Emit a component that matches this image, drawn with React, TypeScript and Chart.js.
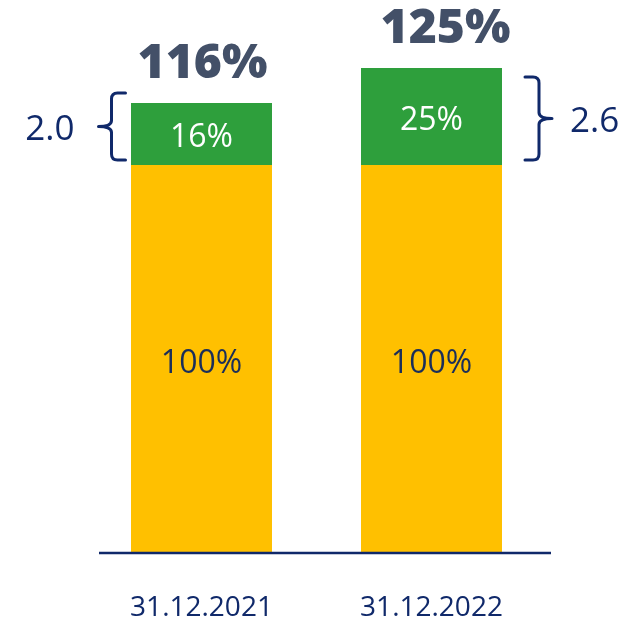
import React, { useEffect, useRef } from "react";
import { Chart, registerables } from "chart.js";

Chart.register(...registerables);

const categories = ["31.12.2021", "31.12.2022"];
const baseValues = [100, 100];
const extraValues = [16, 25];
const totalLabels = ["116%", "125%"];
const baseLabels = ["100%", "100%"];
const extraLabels = ["16%", "25%"];
const braceLabels = ["2.0", "2.6"];

const NAVY = "#10296a";
const SLATE = "#435068";
const GREEN = "#2e9f3c";
const YELLOW = "#ffc000";

const overlay = {
  id: "overlay",
  afterDatasetsDraw(chart: any) {
    const ctx = chart.ctx;
    const x = chart.scales.x;
    const y = chart.scales.y;
    const base = y.getPixelForValue(0);
    ctx.save();
    // baseline
    ctx.strokeStyle = NAVY;
    ctx.lineWidth = 2.5;
    ctx.beginPath();
    ctx.moveTo(99, base);
    ctx.lineTo(551, base);
    ctx.stroke();

    categories.forEach((c, i) => {
      const cx = x.getPixelForValue(i);
      const yBaseTop = y.getPixelForValue(baseValues[i]);
      const yTop = y.getPixelForValue(baseValues[i] + extraValues[i]);
      ctx.textAlign = "center";
      ctx.textBaseline = "middle";
      // category
      ctx.fillStyle = NAVY;
      ctx.font = "28px 'Open Sans'";
      ctx.fillText(c, cx, base + 55);
      // base label
      ctx.font = "32px 'Open Sans'";
      ctx.fillStyle = "#1a2e5a";
      ctx.fillText(baseLabels[i], cx, (base + yBaseTop) / 2 + 5);
      // extra label
      ctx.fillStyle = "#ffffff";
      ctx.fillText(extraLabels[i], cx, (yBaseTop + yTop) / 2 + 4);
      // total
      ctx.fillStyle = SLATE;
      ctx.font = "900 48px 'Noto Sans'";
      ctx.fillText(totalLabels[i], cx + (i === 0 ? 1 : 14), yTop - 39);

      // brace
      ctx.strokeStyle = NAVY;
      ctx.lineWidth = 3;
      ctx.lineJoin = "round";
      ctx.lineCap = "round";
      const bt = i === 0 ? yTop - 10 : yTop + 9;
      const bb = yBaseTop - 5;
      const mid = (bt + bb) / 2;
      const dir = i === 0 ? -1 : 1;
      const vx = i === 0 ? x.getPixelForValue(i) - 90 : x.getPixelForValue(i) + 107.5;
      const armX = vx - dir * 14;
      const tipX = vx + dir * 13;
      const r = 6;
      ctx.beginPath();
      ctx.moveTo(armX, bt);
      ctx.lineTo(vx - dir * r, bt);
      ctx.quadraticCurveTo(vx, bt, vx, bt + r);
      ctx.lineTo(vx, mid - r);
      ctx.quadraticCurveTo(vx, mid, tipX, mid);
      ctx.quadraticCurveTo(vx, mid, vx, mid + r);
      ctx.lineTo(vx, bb - r);
      ctx.quadraticCurveTo(vx, bb, vx - dir * r, bb);
      ctx.lineTo(armX, bb);
      ctx.stroke();
      // brace label
      ctx.fillStyle = NAVY;
      ctx.font = "35px 'Open Sans'";
      ctx.textAlign = i === 0 ? "right" : "left";
      ctx.fillText(braceLabels[i], i === 0 ? tipX - 24 : tipX + 18, mid + 4);
    });
    ctx.restore();
  },
};

export default function App() {
  const ref = useRef<HTMLCanvasElement | null>(null);
  useEffect(() => {
    if (!ref.current) return;
    const chart = new Chart(ref.current, {
      type: "bar",
      data: {
        labels: categories,
        datasets: [
          { label: "base", data: baseValues, backgroundColor: YELLOW, borderWidth: 0 },
          { label: "extra", data: extraValues, backgroundColor: GREEN, borderWidth: 0 },
        ],
      },
      options: {
        animation: false,
        responsive: false,
        maintainAspectRatio: false,
        layout: { padding: { left: 86.5, right: 79.5, top: 48.6, bottom: 70 } },
        datasets: { bar: { barPercentage: 1, categoryPercentage: 0.613 } },
        plugins: { legend: { display: false }, tooltip: { enabled: false } },
        scales: {
          x: { stacked: true, display: false },
          y: { stacked: true, display: false, min: 0, max: 130 },
        },
      },
      plugins: [overlay],
    });
    return () => chart.destroy();
  }, []);
  return (
    <div style={{ position: "fixed", left: 0, top: 0, width: 626, height: 623, background: "#fff" }}>
      <canvas ref={ref} width={626} height={623} style={{ width: 626, height: 623 }} />
    </div>
  );
}
